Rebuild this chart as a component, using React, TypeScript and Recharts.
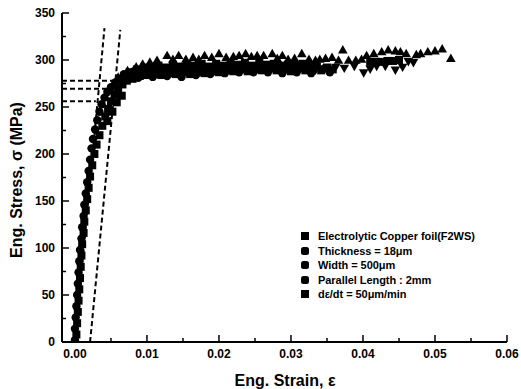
import { ScatterChart, Scatter, XAxis, YAxis, ReferenceLine, Legend, Customized } from 'recharts';

// Eng. strain (-) vs Eng. stress (MPa)
const circles: [number, number][] = [
  [0.0000, 2], [0.0000, 14], [0.0001, 26], [0.0002, 38], [0.0003, 50], [0.0004, 62], [0.0005, 74],
  [0.0006, 86], [0.0007, 98], [0.0009, 110], [0.0010, 122], [0.0012, 134], [0.0013, 146], [0.0015, 158],
  [0.0017, 170], [0.0019, 182], [0.0021, 194], [0.0023, 206], [0.0025, 216], [0.0028, 226], [0.0031, 236],
  [0.0034, 245], [0.0037, 253], [0.0041, 260], [0.0045, 266], [0.0050, 271], [0.0056, 276], [0.0063, 280],
  [0.0068, 285], [0.0074, 280], [0.0082, 288], [0.0088, 281], [0.0094, 290], [0.0102, 288], [0.0108, 282],
  [0.0114, 290], [0.0122, 288], [0.0128, 283], [0.0134, 291], [0.0142, 289], [0.0148, 282], [0.0154, 291],
  [0.0162, 289], [0.0168, 284], [0.0174, 292], [0.0182, 290], [0.0188, 285], [0.0194, 292], [0.0202, 291],
  [0.0208, 286], [0.0214, 293], [0.0222, 291], [0.0228, 287], [0.0234, 293], [0.0242, 292], [0.0248, 287],
  [0.0254, 294], [0.0262, 292], [0.0268, 287], [0.0274, 293], [0.0282, 291], [0.0288, 286], [0.0294, 292],
  [0.0302, 291], [0.0308, 287], [0.0314, 293], [0.0322, 291], [0.0328, 286], [0.0334, 292], [0.0346, 291],
  [0.0354, 287],
];

const squares: [number, number][] = [
  [0.0002, 8], [0.0003, 20], [0.0004, 32], [0.0005, 44], [0.0006, 56], [0.0007, 68], [0.0008, 80],
  [0.0009, 92], [0.0010, 104], [0.0012, 116], [0.0013, 128], [0.0015, 140], [0.0017, 152], [0.0019, 164],
  [0.0021, 176], [0.0024, 188], [0.0027, 200], [0.0030, 210], [0.0034, 220], [0.0038, 230], [0.0042, 240],
  [0.0045, 235], [0.0046, 248], [0.0050, 256], [0.0052, 245], [0.0055, 263], [0.0058, 255], [0.0060, 269],
  [0.0065, 262], [0.0066, 274], [0.0072, 278],
  [0.0070, 283], [0.0076, 287], [0.0080, 280], [0.0086, 290], [0.0090, 283], [0.0096, 292], [0.0100, 284],
  [0.0106, 293], [0.0110, 285], [0.0116, 294], [0.0120, 284], [0.0126, 292], [0.0130, 286], [0.0136, 295],
  [0.0140, 285], [0.0146, 293], [0.0150, 287], [0.0156, 295], [0.0160, 285], [0.0166, 294], [0.0170, 287],
  [0.0176, 296], [0.0180, 286], [0.0186, 293], [0.0190, 288], [0.0196, 296], [0.0200, 287], [0.0206, 294],
  [0.0210, 289], [0.0216, 297], [0.0220, 288], [0.0226, 295], [0.0230, 290], [0.0236, 297], [0.0240, 288],
  [0.0246, 294], [0.0250, 290], [0.0256, 297], [0.0260, 289], [0.0266, 295], [0.0270, 291], [0.0276, 296],
  [0.0280, 289], [0.0286, 294], [0.0290, 290], [0.0296, 295], [0.0300, 288], [0.0306, 293], [0.0310, 291],
  [0.0316, 296], [0.0320, 289], [0.0326, 294], [0.0330, 290], [0.0336, 293], [0.0342, 289], [0.0350, 292],
  [0.0358, 290], [0.0410, 298], [0.0418, 298], [0.0426, 298], [0.0434, 299], [0.0442, 299], [0.0450, 300],
];

const triUp: [number, number][] = [
  [0.0060, 282], [0.0073, 289], [0.0085, 293], [0.0094, 296], [0.0104, 298], [0.0114, 300], [0.0128, 305],
  [0.0136, 301], [0.0144, 305], [0.0154, 301], [0.0164, 303], [0.0172, 301], [0.0180, 305], [0.0190, 303],
  [0.0200, 307], [0.0210, 303], [0.0220, 304], [0.0228, 305], [0.0237, 307], [0.0245, 304], [0.0253, 305],
  [0.0262, 305], [0.0274, 307], [0.0281, 302], [0.0288, 305], [0.0296, 301], [0.0305, 302], [0.0315, 307],
  [0.0325, 301], [0.0334, 300], [0.0340, 301], [0.0348, 302], [0.0357, 303], [0.0366, 300], [0.0372, 311],
  [0.0380, 300], [0.0390, 300], [0.0398, 301], [0.0405, 305], [0.0415, 307], [0.0426, 309], [0.0435, 311],
  [0.0445, 310], [0.0452, 309], [0.0460, 307], [0.0474, 306], [0.0480, 307], [0.0490, 309], [0.0500, 310],
  [0.0510, 312], [0.0522, 302],
];

const triDown: [number, number][] = [
  [0.0150, 289], [0.0180, 291], [0.0205, 292], [0.0225, 290], [0.0250, 291], [0.0270, 293], [0.0292, 290],
  [0.0305, 294], [0.0320, 291], [0.0334, 289], [0.0350, 289], [0.0362, 292], [0.0374, 291], [0.0388, 293],
  [0.0401, 286], [0.0410, 290], [0.0419, 293], [0.0431, 293], [0.0445, 289], [0.0455, 292], [0.0463, 298],
  [0.0470, 297],
];

// elastic lines (through origin and 0.2 % offset) and the yield levels
const elasticLine: [number, number][] = [[0.0, 0], [0.0041, 334]];
const offsetLine: [number, number][] = [[0.0021, 0], [0.0063, 332]];
const yieldLevels = [278, 269.5, 256];
const yieldEnds = [0.0054, 0.0047, 0.0029];

const X_DOMAIN: [number, number] = [-0.0018, 0.06];
const X_TICKS = [0, 0.005, 0.01, 0.015, 0.02, 0.025, 0.03, 0.035, 0.04, 0.045, 0.05, 0.055, 0.06];
const Y_TICKS = [0, 25, 50, 75, 100, 125, 150, 175, 200, 225, 250, 275, 300, 325, 350];

const legendLines = [
  'Electrolytic Copper foil(F2WS)',
  'Thickness = 18\u03bcm',
  'Width = 500\u03bcm',
  'Parallel Length : 2mm',
  'd\u03b5/dt = 50\u03bcm/min',
];
const legendShapes = ['square', 'circle', 'circle', 'circle', 'square'];

const toPts = (arr: [number, number][]) => arr.map(([x, y]) => ({ x, y }));

const FONT = '"Liberation Sans", Arial, sans-serif';
const INK = '#000';

const isMajorX = (v: number) => Math.abs(v * 100 - Math.round(v * 100)) < 1e-6;
const isMajorY = (v: number) => v % 50 === 0;

const BottomTick = (props: any) => {
  const { x, y, payload } = props;
  const major = isMajorX(payload.value);
  return (
    <g>
      <line x1={x} x2={x} y1={y} y2={y - (major ? 7 : 4)} stroke={INK} strokeWidth={1.5} />
      {major && (
        <text x={x} y={y + 16} textAnchor="middle" fontFamily={FONT} fontSize={12} fontWeight="bold" fill={INK}>
          {payload.value.toFixed(2)}
        </text>
      )}
    </g>
  );
};

const TopTick = (props: any) => {
  const { x, y, payload } = props;
  const major = isMajorX(payload.value);
  return <line x1={x} x2={x} y1={y} y2={y + (major ? 7 : 4)} stroke={INK} strokeWidth={1.5} />;
};

const LeftTick = (props: any) => {
  const { x, y, payload } = props;
  const major = isMajorY(payload.value);
  return (
    <g>
      <line x1={x} x2={x + (major ? 7 : 4)} y1={y} y2={y} stroke={INK} strokeWidth={1.5} />
      {major && (
        <text x={x - 7} y={y + 4} textAnchor="end" fontFamily={FONT} fontSize={12} fontWeight="bold" fill={INK}>
          {payload.value}
        </text>
      )}
    </g>
  );
};

const RightTick = (props: any) => {
  const { x, y, payload } = props;
  const major = isMajorY(payload.value);
  return <line x1={x} x2={x - (major ? 7 : 4)} y1={y} y2={y} stroke={INK} strokeWidth={1.5} />;
};

const Circle = (p: any) => <circle cx={p.cx} cy={p.cy} r={4.2} fill={INK} />;
const Square = (p: any) => <rect x={p.cx - 4} y={p.cy - 4} width={8} height={8} fill={INK} />;
const TriUp = (p: any) => (
  <polygon points={`${p.cx - 4.8},${p.cy + 3.8} ${p.cx + 4.8},${p.cy + 3.8} ${p.cx},${p.cy - 4.6}`} fill={INK} />
);
const TriDown = (p: any) => (
  <polygon points={`${p.cx - 4.8},${p.cy - 3.8} ${p.cx + 4.8},${p.cy - 3.8} ${p.cx},${p.cy + 4.6}`} fill={INK} />
);

const LegendBox = () => (
  <div style={{ fontFamily: FONT, fontSize: 11, fontWeight: 'bold', color: INK, letterSpacing: -0.05 }}>
    {legendLines.map((t, i) => (
      <div key={i} style={{ display: 'flex', alignItems: 'center', height: 14.5, whiteSpace: 'nowrap' }}>
        <span
          style={{
            width: 8,
            height: 8,
            background: INK,
            borderRadius: legendShapes[i] === 'circle' ? 2.5 : 0,
            marginRight: 9,
            display: 'inline-block',
          }}
        />
        {t}
      </div>
    ))}
  </div>
);

const Titles = () => (
  <g fontFamily={FONT} fontWeight="bold" fontSize={16} fill={INK}>
    <text x={285} y={386} textAnchor="middle">Eng. Strain, {'\u03b5'}</text>
    <text x={22} y={180} textAnchor="middle" transform="rotate(-90 22 180)">
      Eng. Stress, {'\u03c3'} (MPa)
    </text>
  </g>
);

const dash = { stroke: INK, strokeWidth: 2, strokeDasharray: '5 3' };

export default function App() {
  return (
    <div style={{ position: 'absolute', left: 0, top: 0, background: '#fff' }}>
      <ScatterChart width={521} height={389} margin={{ top: 13, right: 14, bottom: 0, left: 0 }}>
        <XAxis
          type="number"
          dataKey="x"
          domain={X_DOMAIN}
          ticks={X_TICKS}
          interval={0}
          allowDataOverflow
          height={47}
          tickSize={0}
          tickMargin={0}
          tick={<BottomTick />}
          axisLine={{ stroke: INK, strokeWidth: 2 }}
        />
        <XAxis
          xAxisId="top"
          orientation="top"
          type="number"
          domain={X_DOMAIN}
          ticks={X_TICKS}
          interval={0}
          allowDataOverflow
          height={0}
          tickSize={0}
          tickMargin={0}
          tick={<TopTick />}
          axisLine={{ stroke: INK, strokeWidth: 2 }}
        />
        <YAxis
          type="number"
          dataKey="y"
          domain={[0, 350]}
          ticks={Y_TICKS}
          interval={0}
          allowDataOverflow
          width={62}
          tickSize={0}
          tickMargin={0}
          tick={<LeftTick />}
          axisLine={{ stroke: INK, strokeWidth: 2 }}
        />
        <YAxis
          yAxisId="right"
          orientation="right"
          type="number"
          domain={[0, 350]}
          ticks={Y_TICKS}
          interval={0}
          allowDataOverflow
          width={0}
          tickSize={0}
          tickMargin={0}
          tick={<RightTick />}
          axisLine={{ stroke: INK, strokeWidth: 2 }}
        />
        <ReferenceLine
          segment={elasticLine.map(([x, y]) => ({ x, y }))}
          {...dash}
        />
        <ReferenceLine
          segment={offsetLine.map(([x, y]) => ({ x, y }))}
          {...dash}
        />
        {yieldLevels.map((lv, i) => (
          <ReferenceLine
            key={i}
            segment={[
              { x: X_DOMAIN[0], y: lv },
              { x: yieldEnds[i], y: lv },
            ]}
            {...dash}
          />
        ))}
        <Scatter data={toPts(circles)} shape={<Circle />} isAnimationActive={false} />
        <Scatter data={toPts(squares)} shape={<Square />} isAnimationActive={false} />
        <Scatter data={toPts(triDown)} shape={<TriDown />} isAnimationActive={false} />
        <Scatter data={toPts(triUp)} shape={<TriUp />} isAnimationActive={false} />
        <Legend
          layout="vertical"
          align="center"
          verticalAlign="middle"
          content={<LegendBox />}
          wrapperStyle={{ left: 301, top: 229, width: 200 }}
        />
        <Customized component={<Titles />} />
      </ScatterChart>
    </div>
  );
}
